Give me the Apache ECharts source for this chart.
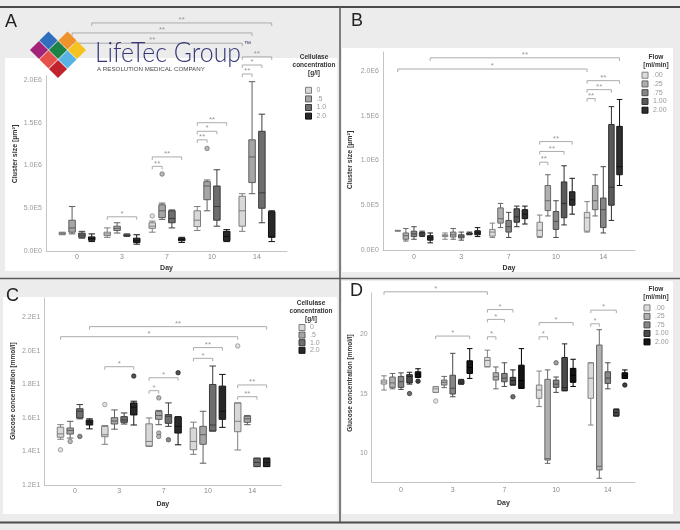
<!DOCTYPE html>
<html><head><meta charset="utf-8">
<script src="https://cdn.jsdelivr.net/npm/echarts@6/dist/echarts.min.js"></script>
<style>html,body{margin:0;padding:0;background:#ececec}#c{width:680px;height:530px}</style>
</head><body><div id="c"></div>
<script>
// ---------- DATA ----------
const DAYS = ['0', '3', '7', '10', '14'];
const CELLULASE_LEVELS = ['0', '.5', '1.0', '2.0'];
const FLOW_LEVELS = ['.00', '.25', '.75', '1.00', '2.00'];

// Box values per level, per day: [min, Q1, median, Q3, max]
// A: cluster size [µm²] by cellulase concentration
const A_BOX = [
  [[1.9e5,1.95e5,2.05e5,2.15e5,2.2e5],[1.6e5,1.8e5,2.0e5,2.2e5,2.7e5],[2.2e5,2.65e5,2.9e5,3.3e5,3.5e5],[2.4e5,2.85e5,3.6e5,4.7e5,5.2e5],[2.3e5,2.9e5,4.7e5,6.4e5,6.7e5]],
  [[2.0e5,2.2e5,2.7e5,3.6e5,5.2e5],[2.1e5,2.4e5,2.65e5,2.9e5,3.3e5],[3.7e5,3.9e5,4.7e5,5.4e5,5.6e5],[4.7e5,6.0e5,7.6e5,8.1e5,8.3e5],[6.7e5,8.0e5,1.1e6,1.3e6,1.98e6]],
  [[1.5e5,1.6e5,1.85e5,2.1e5,2.3e5],[1.7e5,1.8e5,1.85e5,1.9e5,2.0e5],[2.7e5,3.3e5,3.8e5,4.7e5,4.8e5],[2.9e5,3.6e5,5.2e5,7.6e5,9.5e5],[3.3e5,5.0e5,6.8e5,1.4e6,1.6e6]],
  [[1.1e5,1.25e5,1.45e5,1.65e5,2.0e5],[0.8e5,1.0e5,1.2e5,1.5e5,1.9e5],[1.0e5,1.2e5,1.35e5,1.5e5,1.6e5],[1.1e5,1.2e5,1.7e5,2.3e5,2.5e5],[1.1e5,1.6e5,1.7e5,4.6e5,4.7e5]]
];
// outliers: [levelIndex, dayIndex, value]
const A_OUTLIERS = [[0,2,4.1e5],[1,2,9.0e5],[1,3,1.2e6]];
// brackets: [fromDay, fromLevel, toDay, toLevel, height, label]
const A_BRACKETS = [
  [0,3,4,3,2.667e6,'**'],[0,1,4,1,2.55e6,'**'],[0,0,4,0,2.43e6,'**'],
  [4,0,4,3,2.27e6,'**'],[4,0,4,2,2.175e6,'*'],[4,0,4,1,2.07e6,'**'],
  [1,0,1,3,0.40e6,'*'],
  [2,0,2,1,0.99e6,'**'],[2,0,2,3,1.10e6,'**'],
  [3,0,3,1,1.30e6,'**'],[3,0,3,2,1.40e6,'*'],[3,0,3,3,1.50e6,'**']
];

// B: cluster size [µm²] by flow
const B_BOX = [
  [[2.1e5,2.12e5,2.15e5,2.18e5,2.2e5],[1.2e5,1.5e5,1.6e5,1.7e5,1.9e5],[1.4e5,1.55e5,2.0e5,2.3e5,3.0e5],[1.4e5,1.5e5,2.2e5,3.1e5,3.9e5],[2.0e5,2.1e5,3.6e5,4.2e5,5.4e5]],
  [[1.0e5,1.2e5,1.6e5,1.9e5,2.4e5],[1.2e5,1.45e5,1.7e5,2.0e5,2.4e5],[2.5e5,3.0e5,3.5e5,4.7e5,5.2e5],[3.8e5,4.4e5,5.5e5,7.2e5,8.4e5],[3.8e5,4.5e5,5.5e5,7.2e5,8.4e5]],
  [[1.2e5,1.5e5,1.8e5,2.1e5,2.6e5],[1.1e5,1.35e5,1.55e5,1.7e5,2.0e5],[1.4e5,2.0e5,2.6e5,3.3e5,4.2e5],[1.4e5,2.3e5,3.2e5,4.3e5,5.5e5],[1.9e5,2.5e5,4.5e5,5.8e5,9.3e5]],
  [[1.5e5,1.6e5,1.8e5,1.95e5,2.1e5],[1.7e5,1.75e5,1.8e5,1.9e5,2.0e5],[2.6e5,3.1e5,3.7e5,4.6e5,4.9e5],[2.8e5,3.6e5,5.2e5,7.6e5,9.4e5],[3.3e5,5.0e5,7.0e5,1.4e6,1.6e6]],
  [[0.8e5,1.1e5,1.35e5,1.6e5,1.9e5],[1.5e5,1.7e5,1.9e5,2.15e5,2.5e5],[2.9e5,3.5e5,4.0e5,4.5e5,4.9e5],[4.0e5,5.0e5,5.6e5,6.5e5,8.0e5],[7.2e5,8.4e5,9.3e5,1.38e6,1.68e6]]
];
const B_OUTLIERS = [];
const B_BRACKETS = [
  [0,4,4,4,2.145e6,'**'],[0,0,4,0,2.02e6,'*'],
  [4,0,4,4,1.89e6,'**'],[4,0,4,3,1.79e6,'**'],[4,0,4,1,1.69e6,'**'],
  [3,0,3,4,1.21e6,'**'],[3,0,3,3,1.10e6,'**'],[3,0,3,1,0.98e6,'**']
];

// C: glucose concentration [mmol/l] by cellulase concentration
const C_BOX = [
  [[14.73,14.85,15.05,15.45,15.6],[14.43,14.88,15.0,15.5,15.55],[14.3,14.33,14.6,15.65,16.0],[13.83,14.1,14.6,15.4,15.75],[14.09,15.18,15.8,16.9,16.9]],
  [[14.8,15.04,15.25,15.4,15.8],[15.33,15.64,15.82,16.02,16.48],[15.6,15.92,16.15,16.4,16.45],[13.3,14.43,15.0,15.5,16.4],[15.6,15.74,15.95,16.1,16.15]],
  [[15.95,16.0,16.4,16.55,16.8],[15.64,15.74,15.88,16.08,16.3],[15.5,15.68,16.1,16.2,16.9],[15.22,15.22,15.58,18.0,19.1],[13.1,13.1,13.35,13.6,13.6]],
  [[15.35,15.58,15.75,15.88,15.95],[15.58,16.18,16.65,16.9,17.0],[14.4,15.1,15.5,16.05,16.08],[15.44,15.92,16.4,17.9,18.6],[13.1,13.1,13.35,13.6,13.6]]
];
const C_OUTLIERS = [[0,0,14.1],[1,0,14.6],[2,0,14.9],[0,1,16.8],[3,1,18.5],[1,2,17.2],[1,2,15.1],[1,2,14.9],[2,2,14.7],[3,2,18.7],[0,4,20.3]];
const C_BRACKETS = [
  [0,3,4,3,21.45,'**'],[0,0,4,0,20.85,'*'],
  [1,0,1,3,19.06,'*'],
  [2,0,2,3,18.4,'*'],[2,0,2,1,17.63,'*'],
  [3,0,3,3,20.2,'**'],[3,0,3,2,19.56,'*'],
  [4,0,4,3,17.97,'**'],[4,0,4,2,17.27,'**']
];

// D: glucose concentration [mmol/l] by flow
const D_BOX = [
  [[15.3,15.8,15.97,16.14,16.5],[15.1,15.1,15.4,15.58,15.6],[17.26,17.26,17.8,18.05,18.67],[13.9,14.6,15.3,15.72,16.9],[12.34,14.6,16.3,17.6,17.6]],
  [[15.4,15.52,15.9,16.4,16.7],[15.5,15.72,15.95,16.14,16.45],[15.4,16.14,16.42,16.76,17.25],[9.1,9.38,9.5,16.2,17.0],[7.84,8.54,8.85,19.1,20.4]],
  [[15.35,15.52,16.0,16.45,16.75],[14.73,14.96,15.45,16.55,18.4],[15.6,16.0,16.3,16.7,17.6],[15.1,15.52,15.8,16.14,16.4],[15.4,15.86,16.3,16.84,17.6]],
  [[15.8,15.9,16.45,16.6,16.8],[15.8,15.8,15.97,16.14,16.2],[15.72,15.72,16.1,16.37,17.0],[15.24,15.24,15.5,18.05,19.2],[13.1,13.1,13.38,13.66,13.7]],
  [[16.37,16.37,16.6,16.84,17.1],[16.28,16.7,17.2,17.77,18.8],[15.44,15.44,16.1,17.4,18.8],[15.6,15.95,16.55,17.13,17.9],[16.28,16.28,16.5,16.76,17.0]]
];
const D_OUTLIERS = [[3,0,15.0],[4,0,16.05],[0,1,14.37],[3,2,14.73],[2,3,17.6],[4,4,15.72]];
const D_BRACKETS = [
  [0,0,2,0,23.6,'*'],
  [1,0,1,4,19.86,'*'],
  [2,0,2,3,22.1,'*'],[2,0,2,2,21.27,'*'],[2,0,2,1,19.8,'*'],
  [3,0,3,4,21.0,'*'],[3,0,3,1,19.8,'*'],
  [4,0,4,3,22.05,'*'],[4,0,4,1,20.9,'*']
];

// Tick values
const CLUSTER_TICKS = [0, 5e5, 1e6, 1.5e6, 2e6];
const GLUCOSE_C_TICKS = [12, 14, 16, 18, 20, 22];
const GLUCOSE_D_TICKS = [10, 15, 20];

// ---------- STYLE / LAYOUT ----------
const FONT = 'Liberation Sans';
const CELL_COLORS = [
  {fill:'#d8d8d8', stroke:'#7e7e7e'}, {fill:'#a6a6a6', stroke:'#5e5e5e'},
  {fill:'#6e6e6e', stroke:'#3c3c3c'}, {fill:'#282828', stroke:'#111111'}];
const FLOW_COLORS = [
  {fill:'#dcdcdc', stroke:'#828282'}, {fill:'#b0b0b0', stroke:'#676767'},
  {fill:'#868686', stroke:'#4a4a4a'}, {fill:'#5a5a5a', stroke:'#2e2e2e'}, {fill:'#2e2e2e', stroke:'#121212'}];
const FLOW_COLORS_D = [
  {fill:'#dcdcdc', stroke:'#828282'}, {fill:'#b0b0b0', stroke:'#676767'},
  {fill:'#868686', stroke:'#4a4a4a'}, {fill:'#4a4a4a', stroke:'#222222'}, {fill:'#141414', stroke:'#000000'}];

function sci(v) {
  if (v === 0) return '0.0E0';
  const e = Math.floor(Math.log10(v) + 1e-9);
  return (v / Math.pow(10, e)).toFixed(1) + 'E' + e;
}

const PANELS = [
  {box:A_BOX, out:A_OUTLIERS, br:A_BRACKETS, levels:CELLULASE_LEVELS, colors:CELL_COLORS,
   grid:{left:46, top:75.7, width:241, height:175.3}, x:[-0.689, 4.667], y:[0, 2.05e6],
   ticks:CLUSTER_TICKS, fmt:sci, boxW:6.5, dayGap:13.5, labMargin:3,
   legend:{left:305, top:86.8, gap:1.6}},
  {box:B_BOX, out:B_OUTLIERS, br:B_BRACKETS, levels:FLOW_LEVELS, colors:FLOW_COLORS,
   grid:{left:383, top:52, width:252, height:198}, x:[-0.655, 4.67], y:[0, 2.21e6],
   ticks:CLUSTER_TICKS, fmt:sci, boxW:5.5, dayGap:14.5, labMargin:4,
   legend:{left:641.5, top:71.7, gap:1.75}},
  {box:C_BOX, out:C_OUTLIERS, br:C_BRACKETS, levels:CELLULASE_LEVELS, colors:CELL_COLORS,
   grid:{left:44.3, top:298, width:237, height:187}, x:[-0.693, 4.657], y:[12, 23.16],
   ticks:GLUCOSE_C_TICKS, fmt:sci, boxW:6.5, dayGap:16, labMargin:3,
   legend:{left:298.5, top:324, gap:0.6}},
  {box:D_BOX, out:D_OUTLIERS, br:D_BRACKETS, levels:FLOW_LEVELS, colors:FLOW_COLORS_D,
   grid:{left:371.7, top:293, width:263.3, height:189.3}, x:[-0.567, 4.526], y:[7.5, 23.5],
   ticks:GLUCOSE_D_TICKS, fmt:v => String(v), boxW:5.5, dayGap:17, labMargin:4,
   legend:{left:643.5, top:304.4, gap:1.5}}
];

// Offsets of each level inside a day group, matching ECharts' boxplot layout
function levelOffsets(n, L, xr) {
  const band = L / DAYS.length, avail = band * 0.8 - 2;
  const gap = avail / n * 0.3, w = (avail - gap * (n - 1)) / n;
  const base = w / 2 - avail / 2;
  const k = (xr[1] - xr[0]) / L;
  return Array.from({length:n}, (_, i) => (base + i * (gap + w)) * k);
}

const grids = [], xAxes = [], yAxes = [], series = [], legends = [];
PANELS.forEach((p, pi) => {
  grids.push(Object.assign({outerBoundsMode:'none', containLabel:false}, p.grid));
  xAxes.push({type:'value', gridIndex:pi, min:p.x[0], max:p.x[1],
    axisLine:{show:true, onZero:false, lineStyle:{color:'#c4c4c4', width:1}},
    axisTick:{show:false}, splitLine:{show:false},
    axisLabel:{customValues:[0,1,2,3,4], formatter:v => DAYS[Math.round(v)], color:'#8a8a8a', fontSize:7, margin:p.labMargin, fontFamily:FONT},
    name:'Day', nameLocation:'middle', nameGap:p.dayGap,
    nameTextStyle:{fontWeight:'bold', fontSize:7, color:'#333', fontFamily:FONT}});
  yAxes.push({type:'value', gridIndex:pi, min:p.y[0], max:p.y[1],
    axisLine:{show:true, onZero:false, lineStyle:{color:'#c4c4c4', width:1}},
    axisTick:{show:false}, splitLine:{show:false},
    axisLabel:{customValues:p.ticks, formatter:p.fmt, color:'#9a9a9a', fontSize:7, margin:4, fontFamily:FONT}});
  const off = levelOffsets(p.levels.length, p.grid.width, p.x);
  p.levels.forEach((lv, li) => {
    series.push({type:'boxplot', name:lv, xAxisIndex:pi, yAxisIndex:pi, silent:true,
      boxWidth:[p.boxW, p.boxW],
      itemStyle:{color:p.colors[li].fill, borderColor:p.colors[li].stroke, borderWidth:1},
      data:p.box[li].map((b, d) => [d].concat(b))});
  });
  series.push({type:'scatter', xAxisIndex:pi, yAxisIndex:pi, silent:true, symbol:'circle', symbolSize:4.5,
    data:p.out.map(([li, d, v]) => ({value:[d + off[li], v],
      itemStyle:{color:p.colors[li].fill, borderColor:p.colors[li].stroke, borderWidth:0.8}}))});
  const labels = p.br.map(b => b[5]);
  series.push({type:'custom', xAxisIndex:pi, yAxisIndex:pi, silent:true, clip:false, z:5,
    data:p.br.map(([d1, l1, d2, l2, h]) => [d1 + off[l1], d2 + off[l2], h]),
    encode:{x:[0,1], y:2},
    renderItem:(params, api) => {
      const a = api.coord([api.value(0), api.value(2)]);
      const b = api.coord([api.value(1), api.value(2)]);
      return {type:'group', children:[
        {type:'polyline', shape:{points:[[a[0], a[1] + 3], [a[0], a[1]], [b[0], b[1]], [b[0], b[1] + 3]]},
         style:{stroke:'#ababab', lineWidth:1, fill:null}},
        {type:'text', x:(a[0] + b[0]) / 2, y:a[1] + 1,
         style:{text:labels[params.dataIndex], fill:'#9a9a9a', fontSize:8, fontFamily:FONT, align:'center', verticalAlign:'bottom'}}
      ]};
    }});
  legends.push({orient:'vertical', left:p.legend.left, top:p.legend.top, padding:0,
    itemWidth:6, itemHeight:6, itemGap:p.legend.gap, icon:'rect', selectedMode:false,
    textStyle:{fontSize:7, color:'#9a9a9a', fontFamily:FONT, lineHeight:7},
    data:p.levels.map((lv, li) => ({name:lv, itemStyle:{color:p.colors[li].fill, borderColor:p.colors[li].stroke, borderWidth:1}}))});
});

// ---------- DECORATION (panel frames, letters, titles, logo) ----------
const txt = (x, y, text, o) => Object.assign({type:'text', x, y, z:50,
  style:Object.assign({text, fontFamily:FONT, fill:'#333'}, o || {})});
const graphics = [
  {type:'rect', z:-20, shape:{x:5, y:58, width:332, height:213}, style:{fill:'#fff'}},
  {type:'rect', z:-20, shape:{x:342, y:48, width:331, height:224}, style:{fill:'#fff'}},
  {type:'rect', z:-20, shape:{x:3, y:297, width:334, height:217}, style:{fill:'#fff'}},
  {type:'rect', z:-20, shape:{x:342, y:281, width:331, height:233}, style:{fill:'#fff'}},
  {type:'line', z:40, shape:{x1:0, y1:7, x2:680, y2:7}, style:{stroke:'#4a4a4a', lineWidth:2}},
  {type:'line', z:40, shape:{x1:0, y1:278.5, x2:680, y2:278.5}, style:{stroke:'#5a5a5a', lineWidth:1.5}},
  {type:'line', z:40, shape:{x1:340, y1:7, x2:340, y2:522}, style:{stroke:'#5a5a5a', lineWidth:1.5}},
  {type:'line', z:40, shape:{x1:0, y1:522.5, x2:680, y2:522.5}, style:{stroke:'#4a4a4a', lineWidth:2}},
  txt(5, 13, 'A', {fontSize:18, fill:'#222', verticalAlign:'top'}),
  txt(351, 12, 'B', {fontSize:18, fill:'#222', verticalAlign:'top'}),
  txt(6, 287, 'C', {fontSize:18, fill:'#222', verticalAlign:'top'}),
  txt(350, 282, 'D', {fontSize:18, fill:'#222', verticalAlign:'top'}),
  // y-axis names
  Object.assign(txt(15, 154, 'Cluster size [µm²]', {fontSize:7, fontWeight:'bold', align:'center', verticalAlign:'middle'}), {rotation:Math.PI/2}),
  Object.assign(txt(350, 160, 'Cluster size [µm²]', {fontSize:7, fontWeight:'bold', align:'center', verticalAlign:'middle'}), {rotation:Math.PI/2}),
  Object.assign(txt(13, 391, 'Glucose concentration [mmol/l]', {fontSize:6.5, fontWeight:'bold', align:'center', verticalAlign:'middle'}), {rotation:Math.PI/2}),
  Object.assign(txt(350, 383, 'Glucose concentration [mmol/l]', {fontSize:6.5, fontWeight:'bold', align:'center', verticalAlign:'middle'}), {rotation:Math.PI/2}),
  // legend titles
  txt(314, 53.5, 'Cellulase\nconcentration\n[g/l]', {fontSize:6.5, fontWeight:'bold', align:'center', verticalAlign:'top', lineHeight:7.7}),
  txt(656, 53.5, 'Flow\n[ml/min]', {fontSize:6.5, fontWeight:'bold', align:'center', verticalAlign:'top', lineHeight:8}),
  txt(311, 299.5, 'Cellulase\nconcentration\n[g/l]', {fontSize:6.5, fontWeight:'bold', align:'center', verticalAlign:'top', lineHeight:7.8}),
  txt(656, 284.5, 'Flow\n[ml/min]', {fontSize:6.5, fontWeight:'bold', align:'center', verticalAlign:'top', lineHeight:8.5})
];
// LifeTec Group logo
const LOGO_SQ = [[48.5,40.5,'#2f6fbd'],[67.5,40.5,'#f0922b'],[39,50,'#a3237a'],[58,50,'#1d8245'],[77,50,'#f6c21f'],
                 [48.5,59.5,'#e5514a'],[67.5,59.5,'#57b2e6'],[58,69,'#c1232e']];
LOGO_SQ.forEach(([cx, cy, c]) => graphics.push({type:'rect', z:60, x:cx, y:cy, rotation:Math.PI/4,
  shape:{x:-6.4, y:-6.4, width:12.8, height:12.8}, style:{fill:c}}));
graphics.push(Object.assign(txt(95, 53.5, 'LifeTec Group', {fontSize:27, fontFamily:'Lato', fontWeight:300, fill:'#353877', verticalAlign:'middle'}), {z:61, scaleX:0.92}));
graphics.push(Object.assign(txt(244, 44, '™', {fontSize:7, fill:'#2c2f6c', verticalAlign:'middle'}), {z:61}));
graphics.push(Object.assign(txt(97, 69, 'A RESOLUTION MEDICAL COMPANY', {fontSize:6.2, fill:'#4a4a4a', verticalAlign:'middle'}), {z:61}));

const chart = echarts.init(document.getElementById('c'), null, {renderer:'canvas'});
chart.setOption({
  backgroundColor:'#ececec', animation:false, textStyle:{fontFamily:FONT},
  grid:grids, xAxis:xAxes, yAxis:yAxes, legend:legends, series, graphic:{elements:graphics}
});
</script></body></html>
